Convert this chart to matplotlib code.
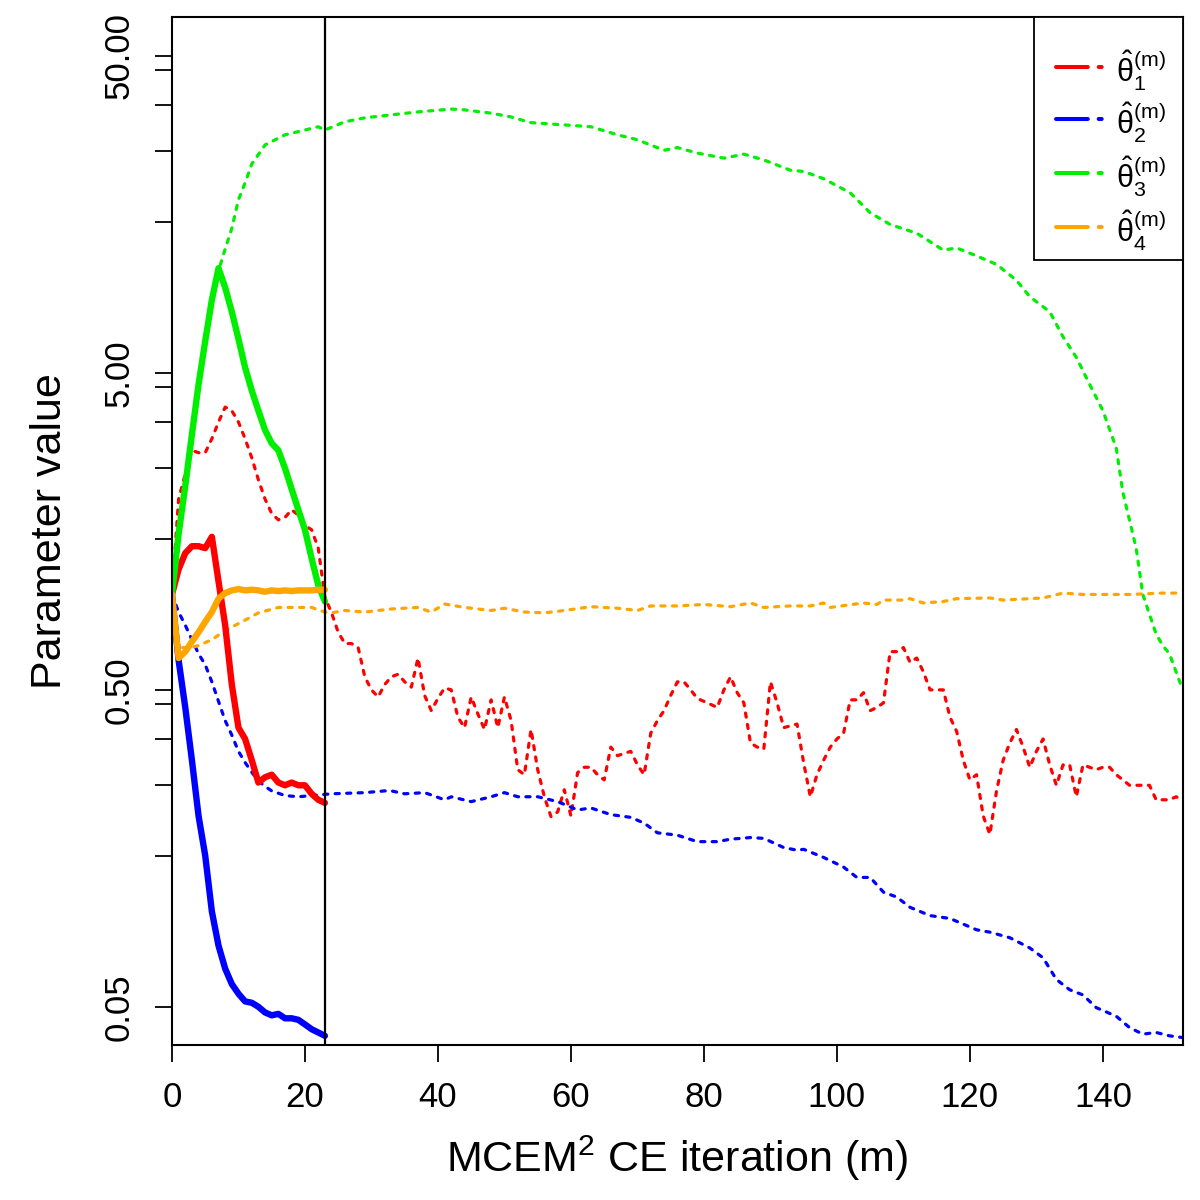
import numpy as np
import matplotlib
matplotlib.use("Agg")
import matplotlib.pyplot as plt
from matplotlib.patches import Rectangle

plt.rcParams['font.family'] = ['Liberation Sans', 'DejaVu Sans']
plt.rcParams['mathtext.fontset'] = 'custom'
plt.rcParams['mathtext.rm'] = 'Liberation Sans'
plt.rcParams['mathtext.it'] = 'Liberation Sans'

# CE run (thick lines), iterations 0..23
m_ce = np.arange(0, 24)
theta1_ce = [1.0, 1.2, 1.35, 1.42, 1.42, 1.4, 1.52, 1.1, 0.8, 0.52, 0.38, 0.35,
             0.3, 0.255, 0.265, 0.27, 0.255, 0.25, 0.255, 0.25, 0.25, 0.235, 0.225, 0.22]
theta2_ce = [1.0, 0.62, 0.44, 0.30, 0.20, 0.15, 0.10, 0.078, 0.066, 0.059, 0.055, 0.052,
             0.0515, 0.050, 0.048, 0.047, 0.0475, 0.046, 0.046, 0.0455, 0.044, 0.0425, 0.0415, 0.0405]
theta3_ce = [1.0, 1.55, 2.2, 3.2, 4.6, 6.3, 8.5, 10.7, 9.3, 7.8, 6.4, 5.2,
             4.4, 3.8, 3.3, 3.0, 2.85, 2.5, 2.15, 1.85, 1.6, 1.3, 1.07, 0.95]
theta4_ce = [1.0, 0.63, 0.66, 0.71, 0.76, 0.82, 0.88, 0.97, 1.01, 1.03, 1.04, 1.03,
             1.035, 1.03, 1.02, 1.03, 1.025, 1.03, 1.025, 1.03, 1.03, 1.03, 1.035, 1.035]

# full run (dotted lines)
m1 = list(range(0, 153))
theta1_full = [1.0, 2.0, 2.4, 2.85, 2.8, 2.8, 3.1, 3.5, 3.9, 3.8, 3.5, 3.1, 2.7, 2.3, 2.0, 1.8,
               1.72, 1.75, 1.85, 1.78, 1.65, 1.6, 1.4, 0.98, 0.875, 0.76, 0.70, 0.70, 0.68, 0.55,
               0.50, 0.475, 0.52, 0.55, 0.56, 0.53, 0.51, 0.63, 0.48, 0.43, 0.47, 0.507, 0.50, 0.41,
               0.38, 0.475, 0.42, 0.375, 0.465, 0.38, 0.475, 0.40, 0.28, 0.27, 0.375, 0.28, 0.23,
               0.199, 0.206, 0.242, 0.20, 0.274, 0.285, 0.285, 0.27, 0.26, 0.33, 0.31, 0.315, 0.32,
               0.29, 0.27, 0.365, 0.40, 0.43, 0.48, 0.53, 0.53, 0.50, 0.47, 0.46, 0.45, 0.44, 0.50,
               0.55, 0.49, 0.455, 0.34, 0.33, 0.325, 0.53, 0.455, 0.38, 0.385, 0.39, 0.294, 0.23,
               0.27, 0.30, 0.33, 0.35, 0.365, 0.465, 0.465, 0.49, 0.43, 0.44, 0.455, 0.66, 0.66,
               0.68, 0.61, 0.63, 0.57, 0.50, 0.50, 0.50, 0.41, 0.37, 0.30, 0.26, 0.27, 0.20, 0.175,
               0.24, 0.30, 0.34, 0.375, 0.33, 0.285, 0.32, 0.35, 0.29, 0.25, 0.29, 0.29, 0.23, 0.29,
               0.285, 0.28, 0.285, 0.285, 0.27, 0.26, 0.25, 0.25, 0.25, 0.25, 0.225, 0.225, 0.225,
               0.23, 0.225]

m2 = [0, 1, 2, 3, 4, 5, 6, 7, 8, 9, 10, 11, 12, 13, 14, 15, 17, 19, 22, 24, 29, 32, 33, 35, 38,
      41, 42, 45, 48, 50, 52, 55, 58, 61, 63, 66, 69, 71, 73, 76, 79, 82, 84, 87, 89, 92, 94, 95,
      98, 101, 103, 105, 107, 109, 111, 114, 117, 121, 123, 126, 129, 131, 133, 135, 137, 139,
      142, 144, 146, 148, 150, 152]
theta2_full = [1.0, 0.88, 0.80, 0.72, 0.65, 0.6, 0.53, 0.46, 0.40, 0.36, 0.32, 0.295, 0.275,
               0.258, 0.248, 0.24, 0.232, 0.23, 0.233, 0.235, 0.237, 0.24, 0.24, 0.235, 0.237,
               0.225, 0.23, 0.222, 0.23, 0.237, 0.23, 0.23, 0.222, 0.209, 0.212, 0.202, 0.198,
               0.19, 0.177, 0.174, 0.166, 0.166, 0.169, 0.171, 0.17, 0.159, 0.156, 0.157, 0.148,
               0.138, 0.128, 0.128, 0.115, 0.111, 0.103, 0.097, 0.095, 0.0875, 0.086, 0.0826,
               0.0767, 0.0714, 0.061, 0.0566, 0.0545, 0.0497, 0.0467, 0.043, 0.041, 0.0415,
               0.0405, 0.040]

m3 = [0, 1, 2, 3, 4, 5, 6, 7, 8, 9, 10, 11, 12, 14, 17, 20, 22, 23, 26, 29, 33, 37, 42, 44, 48,
      51, 54, 59, 63, 67, 70, 74, 76, 79, 83, 86, 89, 93, 95, 98, 102, 105, 108, 112, 116, 118,
      121, 124, 127, 129, 132, 134, 136, 138, 140, 142, 143, 145, 146, 148, 149, 150, 152]
theta3_full = [1.0, 1.5, 2.2, 3.2, 4.6, 6.4, 8.4, 10.5, 12.3, 14.3, 17.6, 19.9, 22.8, 26.2,
               28.2, 29.2, 29.9, 29.2, 31.0, 31.9, 32.6, 33.3, 34.0, 33.8, 33.0, 32.1, 30.8,
               30.3, 29.9, 28.2, 27.2, 25.2, 25.7, 24.7, 23.8, 24.5, 23.5, 21.8, 21.6, 20.5,
               18.5, 16.0, 14.7, 13.8, 12.2, 12.4, 11.7, 11.0, 9.8, 8.7, 7.8, 6.5, 5.6, 4.6,
               3.8, 2.9, 2.1, 1.4, 1.0, 0.75, 0.69, 0.65, 0.50]

m4 = [0, 1, 3, 4, 6, 8, 11, 13, 16, 18, 21, 23, 24, 26, 29, 33, 37, 39, 41, 44, 48, 50, 53, 56,
      59, 63, 67, 70, 72, 76, 80, 84, 87, 89, 93, 96, 98, 99, 104, 106, 107, 110, 111, 113, 116,
      118, 123, 125, 129, 131, 134, 137, 139, 144, 149, 152]
theta4_full = [1.0, 0.68, 0.68, 0.69, 0.72, 0.77, 0.83, 0.875, 0.91, 0.91, 0.91, 0.88, 0.875,
               0.89, 0.88, 0.90, 0.91, 0.88, 0.933, 0.91, 0.89, 0.905, 0.88, 0.875, 0.89, 0.915,
               0.905, 0.89, 0.92, 0.92, 0.93, 0.915, 0.94, 0.91, 0.92, 0.92, 0.94, 0.91, 0.94,
               0.93, 0.96, 0.96, 0.97, 0.94, 0.95, 0.97, 0.975, 0.96, 0.97, 0.975, 1.01, 1.0,
               1.0, 1.0, 1.01, 1.01]

ce_end = 23
colors = ['#ff0000', '#0000ff', '#00ee00', '#ffa500']
legend_labels = [r'$\hat{\theta}_1^{(m)}$', r'$\hat{\theta}_2^{(m)}$',
                 r'$\hat{\theta}_3^{(m)}$', r'$\hat{\theta}_4^{(m)}$']

yticks = [0.05, 0.15, 0.25, 0.35, 0.45, 0.5, 1.5, 2.5, 3.5, 4.5, 5, 15, 25, 35, 45, 50]
ylabels_shown = {0.05: '0.05', 0.5: '0.50', 5: '5.00', 50: '50.00'}

fig = plt.figure(figsize=(12, 12), dpi=100)
ax = fig.add_axes([0.1433, 0.1292, 0.8423, 0.8567])

full_x = [m1, m2, m3, m4]
full_y = [theta1_full, theta2_full, theta3_full, theta4_full]
for xs, ys, c in zip(full_x, full_y, colors):
    ax.plot(xs, ys, color=c, lw=2.3, linestyle=(0, (1.3, 2.3)), dash_capstyle='round')

for ys, c in zip([theta1_ce, theta2_ce, theta3_ce, theta4_ce], colors):
    ax.plot(m_ce, ys, color=c, lw=4.6, solid_capstyle='round', solid_joinstyle='round')

ax.axvline(ce_end, color='black', lw=1.6)

ax.set_yscale('log')
ax.set_xlim(0, 152)
ax.set_ylim(0.0379, 66.4)
ax.set_yticks(yticks)
ax.set_yticklabels([ylabels_shown.get(t, '') for t in yticks], rotation=90, va='center')
ax.yaxis.set_minor_locator(matplotlib.ticker.NullLocator())
ax.set_xticks(np.arange(0, 141, 20))

ax.tick_params(axis='both', length=12, width=1.3, labelsize=25, pad=14)
for s in ax.spines.values():
    s.set_linewidth(1.5)

ax.set_xlabel('MCEM$^2$ CE iteration (m)', fontsize=31, labelpad=14)
ax.set_ylabel('Parameter value', fontsize=31, labelpad=24)

# legend box drawn by hand in axes fractions, tucked into the top-right corner
box = Rectangle((0.853, 0.7636), 0.147, 0.2364, transform=ax.transAxes,
                facecolor='white', edgecolor='black', lw=1.3, zorder=5)
ax.add_patch(box)
row_y = [0.9514, 0.9008, 0.8482, 0.7957]
for yy, c, lab in zip(row_y, colors, legend_labels):
    ax.plot([0.8746, 0.9241], [yy, yy], transform=ax.transAxes, color=c, lw=2.9,
            linestyle=(0, (7.9, 2.7, 0.75, 6)), dash_capstyle='round', zorder=6)
    ax.text(0.934, yy - 0.004, lab, transform=ax.transAxes, fontsize=22,
            ha='left', va='center', zorder=6)

fig.savefig('out.png', dpi=100)
